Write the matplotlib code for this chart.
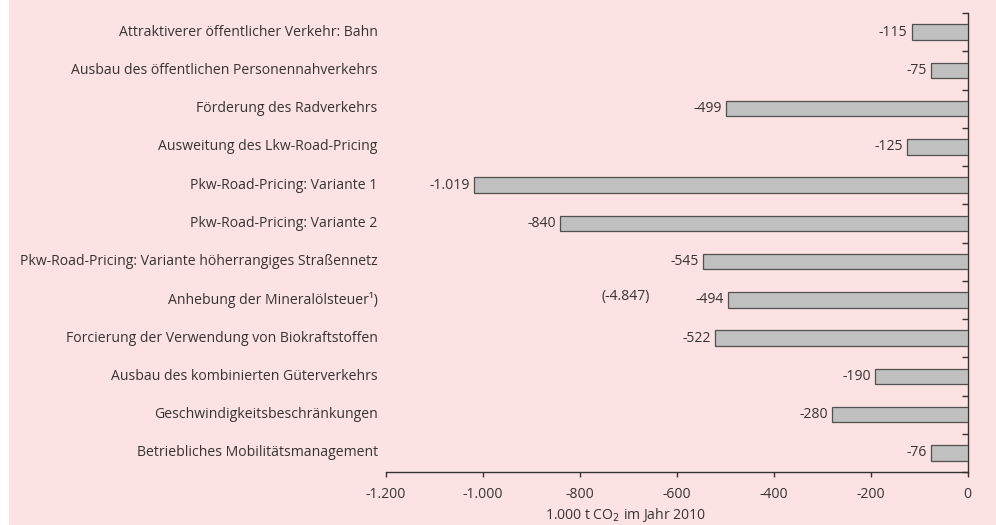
import matplotlib
matplotlib.use("Agg")
import matplotlib.pyplot as plt
import matplotlib.transforms as mtransforms
import numpy as np

# Maßnahmen und CO2-Minderung (1.000 t CO2 im Jahr 2010)
categories = [
    "Attraktiverer öffentlicher Verkehr: Bahn",
    "Ausbau des öffentlichen Personennahverkehrs",
    "Förderung des Radverkehrs",
    "Ausweitung des Lkw-Road-Pricing",
    "Pkw-Road-Pricing: Variante 1",
    "Pkw-Road-Pricing: Variante 2",
    "Pkw-Road-Pricing: Variante höherrangiges Straßennetz",
    "Anhebung der Mineralölsteuer¹)",
    "Forcierung der Verwendung von Biokraftstoffen",
    "Ausbau des kombinierten Güterverkehrs",
    "Geschwindigkeitsbeschränkungen",
    "Betriebliches Mobilitätsmanagement",
]
values = [-115, -75, -499, -125, -1019, -840, -545, -494, -522, -190, -280, -76]
value_labels = ["-115", "-75", "-499", "-125", "-1.019", "-840", "-545", "-494",
                "-522", "-190", "-280", "-76"]
xticks = [-1200, -1000, -800, -600, -400, -200, 0]
xtick_labels = ["-1.200", "-1.000", "-800", "-600", "-400", "-200", "0"]
note_text = "(-4.847)"
note_x = -705

BG = "#fde2e3"
TXT = "#333333"
FS = 10.1
plt.rcParams["font.family"] = ["Open Sans", "DejaVu Sans"]

fig = plt.figure(figsize=(9.96, 5.25), dpi=100)
fig.patch.set_facecolor("white")
# rosa Hintergrund, schmaler weißer Rand links
fig.add_artist(plt.Rectangle((9 / 996, 0), 1, 1, transform=fig.transFigure,
                             facecolor=BG, edgecolor="none", zorder=0))

ax = fig.add_axes([386 / 996, 1 - 472 / 525, 581.5 / 996, 459 / 525])
ax.set_facecolor("none")

n = len(categories)
y = np.arange(n)
ax.barh(y, values, height=0.4, color="#c0c0c0", edgecolor="#505050",
        linewidth=0.9, zorder=3)

for yi, v, lab in zip(y, values, value_labels):
    ax.annotate(lab, xy=(v, yi), xytext=(-3, 0), textcoords="offset points",
                ha="right", va="center", fontsize=FS, color=TXT)

# Kategorienbeschriftung links neben der Achse
trans = mtransforms.blended_transform_factory(ax.transAxes, ax.transData)
for yi, cat in zip(y, categories):
    ax.annotate(cat, xy=(0.0, yi), xycoords=trans, xytext=(-6, 0),
                textcoords="offset points", ha="right", va="center",
                fontsize=FS, color=TXT)

ax.text(note_x, 7 - 0.08, note_text, ha="center", va="center",
        fontsize=FS, color=TXT)

ax.set_ylim(n - 0.5, -0.5)
ax.set_xlim(-1200, 0)

for s in ["top", "left"]:
    ax.spines[s].set_visible(False)
ax.spines["bottom"].set_color("#333333")
ax.spines["right"].set_color("#333333")
ax.spines["bottom"].set_linewidth(1.0)
ax.spines["right"].set_linewidth(1.0)

ax.yaxis.tick_right()
ax.set_yticks(np.arange(-0.5, n, 1.0))
ax.set_yticklabels([])
ax.tick_params(axis="y", direction="in", length=4, width=1, color="#333333")

ax.set_xticks(xticks)
ax.set_xticklabels(xtick_labels, fontsize=FS, color=TXT)
ax.tick_params(axis="x", direction="out", length=3.5, width=1,
               color="#333333", pad=7)

ax.set_xlabel("1.000 t CO$_2$ im Jahr 2010", fontsize=FS, color=TXT)
ax.xaxis.set_label_coords((626 - 386) / 581.5, -0.094)
ax.xaxis.label.set_va("center")

fig.savefig("out.png", dpi=100, facecolor=fig.get_facecolor())
